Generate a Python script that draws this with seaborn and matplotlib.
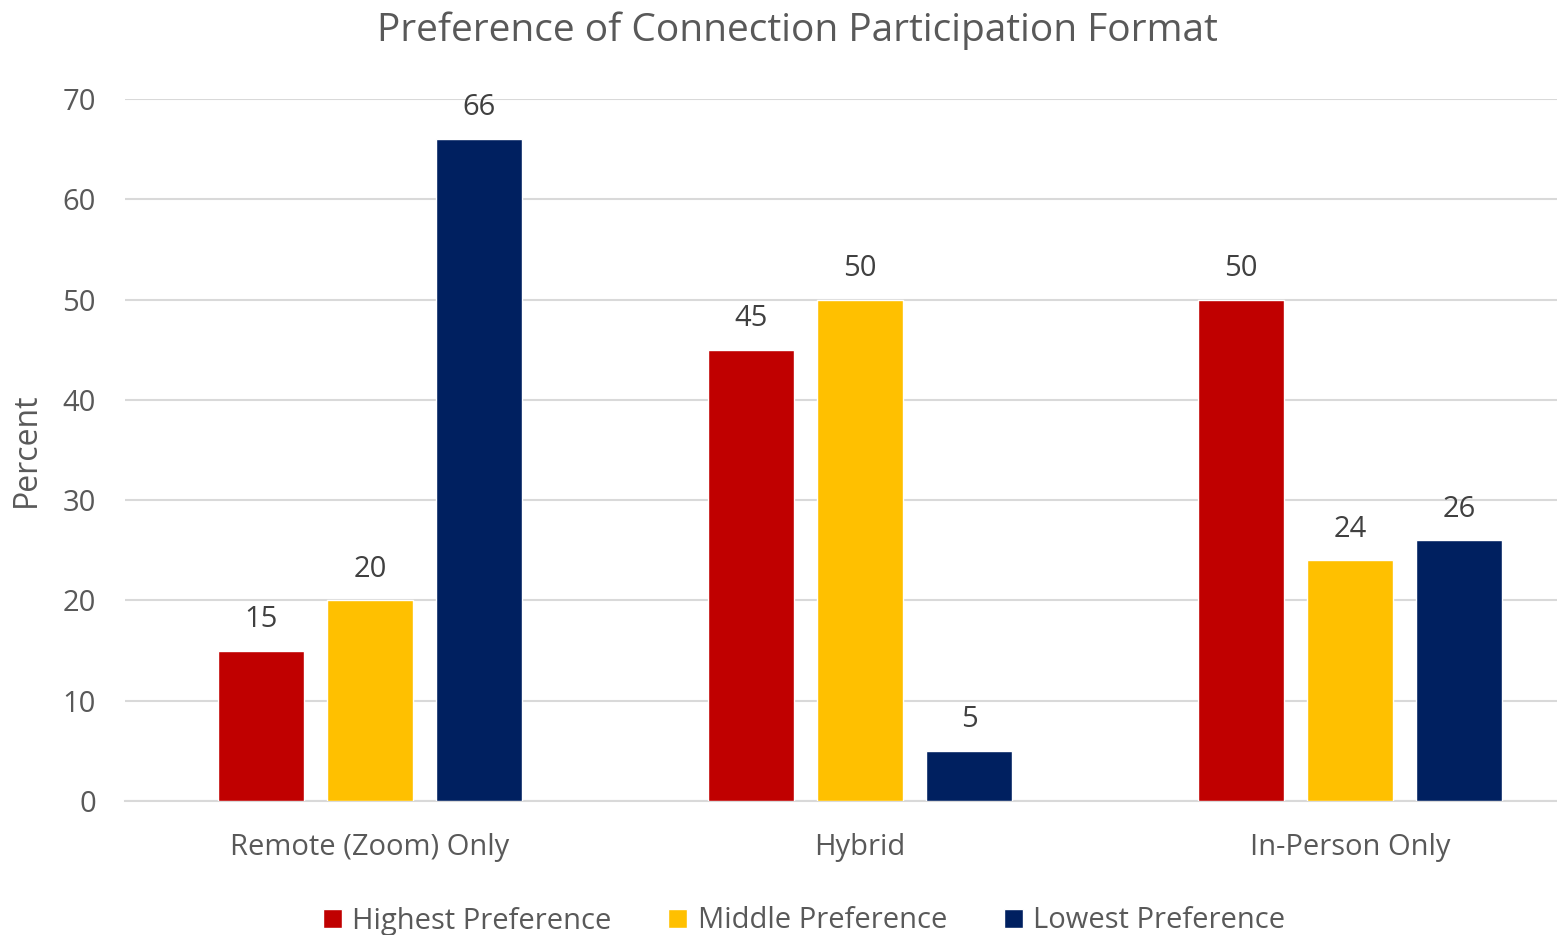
import matplotlib
matplotlib.use("Agg")
import matplotlib.pyplot as plt
import seaborn as sns
import pandas as pd

# ----------------------------------------------------------
# DATA
# ----------------------------------------------------------
formats = ["Remote (Zoom) Only", "Hybrid", "In-Person Only"]
levels = ["Highest Preference", "Middle Preference", "Lowest Preference"]
highest = [15, 45, 50]
middle = [20, 50, 24]
lowest = [66, 5, 26]
colors = ["#C00000", "#FFC000", "#002060"]

df = pd.DataFrame({
    "Format": formats * 3,
    "Level": [levels[0]] * 3 + [levels[1]] * 3 + [levels[2]] * 3,
    "Percent": highest + middle + lowest,
})

# ----------------------------------------------------------
# PLOT
# ----------------------------------------------------------
sns.set_style("white")
plt.rcParams["font.family"] = ["Open Sans", "DejaVu Sans"]
text_col = "#595959"

fig = plt.figure(figsize=(15.57, 9.35), dpi=100)
ax = fig.add_axes([125 / 1557, 1 - 801 / 935, 1470 / 1557, 702 / 935])

sns.barplot(data=df, x="Format", y="Percent", hue="Level", order=formats,
            hue_order=levels, palette=colors, width=0.667, gap=0.21,
            saturation=1, ax=ax, legend=True, zorder=3)

for c in ax.containers:
    ax.bar_label(c, fmt="%d", padding=12, fontsize=21, color="#404040")

ax.set_ylim(0, 70)
ax.set_xlim(-0.5, 2.5)
ax.set_yticks(range(0, 71, 10))
ax.yaxis.grid(True, color="#D9D9D9", linewidth=1.5, zorder=0)
ax.set_axisbelow(True)
sns.despine(ax=ax, left=True, top=True, right=True)
ax.spines["bottom"].set_color("#D9D9D9")
ax.spines["bottom"].set_linewidth(1.5)
ax.tick_params(axis="y", length=0, pad=21, labelsize=21, labelcolor=text_col)
ax.tick_params(axis="x", length=0, pad=23, labelsize=21, labelcolor=text_col)
ax.set_xlabel("")
ax.set_ylabel("Percent", fontsize=23, color=text_col, labelpad=14)

fig.text(797 / 1557, 1 - 31 / 935, "Preference of Connection Participation Format",
         ha="center", va="center", fontsize=28, color=text_col)

handles, labels = ax.get_legend_handles_labels()
ax.get_legend().remove()
fig.legend(handles, labels, loc="center", bbox_to_anchor=(804 / 1557, 1 - 921 / 935),
           ncol=3, frameon=False, fontsize=21, labelcolor=text_col,
           handlelength=0.65, handleheight=0.65, handletextpad=0.35, columnspacing=1.95)

fig.savefig("out.png", dpi=100)
